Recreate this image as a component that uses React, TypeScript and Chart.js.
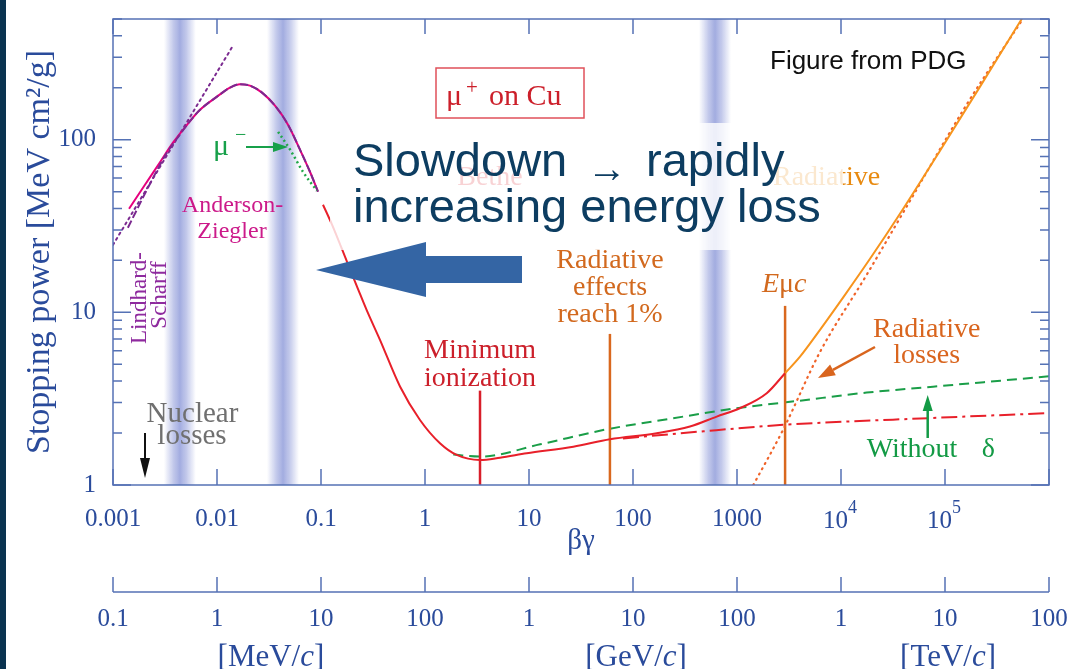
import React, { useEffect, useRef } from 'react';
import { Chart, registerables } from 'chart.js';

Chart.register(...registerables);

const SERIF = '"Liberation Serif", "Times New Roman", serif';
const SANS = '"Liberation Sans", Arial, sans-serif';

// ---------------- data ----------------
const betaGammaTicks = [0.001, 0.01, 0.1, 1, 10, 100, 1000, 1e4, 1e5, 1e6];
const betaGammaTickLabels = ['0.001', '0.01', '0.1', '1', '10', '100', '1000', '10^4', '10^5', ''];
const momentumTicks = [0.1, 1, 10, 100, 1e3, 1e4, 1e5, 1e6, 1e7, 1e8]; // MeV/c
const momentumTickLabels = ['0.1', '1', '10', '100', '1', '10', '100', '1', '10', '100'];
const momentumUnits = ['[MeV/', '[GeV/', '[TeV/'];
const momentumUnitAt = [3.3, 1.07e4, 1.07e7];
const stoppingTicks = [1, 10, 100];
const bandBetaGamma = [0.0044, 0.0431, 614];

// Anderson-Ziegler (magenta)
const azBG = [0.001426, 0.00203, 0.00283, 0.003776, 0.00515, 0.00687, 0.01, 0.01334, 0.01664, 0.02076, 0.02709, 0.03612, 0.04816, 0.06281, 0.07834, 0.0935];
const azSP = [39.8, 54.8, 74, 96.1, 122, 149, 177.5, 200.2, 209.7, 205.6, 187.3, 157.4, 122.2, 87.5, 65.2, 50];
// Lindhard-Scharff (purple dashed)
const lsBG = [0.00139, 0.00227, 0.0033, 0.0042, 0.00515, 0.00687, 0.01, 0.01334, 0.01664, 0.02076, 0.02709, 0.03612, 0.04816, 0.06281, 0.07834, 0.0935];
const lsSP = [30.9, 55.6, 84, 103, 122, 149, 177.5, 200.2, 209.7, 205.6, 187.3, 157.4, 122.2, 87.5, 65.2, 50];
// Lindhard-Scharff extrapolation (purple dotted)
const lsLineBG = [0.001, 0.0139];
const lsLineSP = [24.6, 342];
// mu- (green dotted)
const muMinusBG = [0.0387, 0.0505, 0.067, 0.0914];
const muMinusSP = [111, 87.5, 65.2, 50.6];
// Bethe (red)
const betheBG = [0.1045, 0.1276, 0.178, 0.2286, 0.275, 0.369, 0.575, 0.895, 1.393, 2.017, 3.38, 5.26, 9.51, 26.7, 60.1, 169, 353, 638, 1064, 1931, 2897];
const betheSP = [42.0, 32.2, 19.6, 13.5, 10.3, 6.93, 3.72, 2.38, 1.745, 1.493, 1.396, 1.44, 1.527, 1.667, 1.84, 1.994, 2.18, 2.49, 2.784, 3.4, 4.44];
// Total with radiative (orange)
const totalBG = [2897, 4036, 6281, 10920, 19010, 36900, 89540, 217200, 549600];
const totalSP = [4.44, 5.54, 7.92, 12.63, 20.42, 37.24, 86.37, 202.9, 502.9];
// Radiative losses (orange dotted)
const radBG = [1435, 2787, 6285, 17660, 42800, 161800, 560000];
const radSP = [1, 2.1, 5.9, 16.5, 41, 160, 500];
// Without delta (green dashed)
const noDeltaBG = [1.87, 3.38, 12.8, 55.8, 244, 993, 4036, 17660, 76700, 1e6];
const noDeltaSP = [1.5, 1.46, 1.72, 2.1, 2.436, 2.784, 3.08, 3.43, 3.71, 4.26];
// Ionization without radiative (red dash-dot)
const noRadBG = [80.2, 441, 2768, 76700, 1e6];
const noRadSP = [1.86, 2.04, 2.23, 2.445, 2.61];
// Marker lines: Minimum ionization, Radiative effects reach 1%, E_muc
const markerBG = [3.38, 60, 2900];
const markerTop = [3.52, 7.5, 10.9];

// ---------------- styles ----------------
const AXIS_TEXT = '#2a4b9b';
const FRAME = '#5572b5';

const pts = (xs: number[], ys: number[]) => xs.map((x, i) => ({ x, y: ys[i] }));

const curve = (data: any[], color: string, width: number, dash: number[], order: number, extra: any = {}) => ({
  data,
  borderColor: color,
  backgroundColor: color,
  borderWidth: width,
  borderDash: dash,
  pointRadius: 0,
  showLine: true,
  fill: false,
  cubicInterpolationMode: 'monotone',
  order,
  ...extra,
});

function arrow(ctx: CanvasRenderingContext2D, x1: number, y1: number, x2: number, y2: number, color: string, lw: number, head: number, hw: number) {
  const a = Math.atan2(y2 - y1, x2 - x1);
  const bx = x2 - head * Math.cos(a);
  const by = y2 - head * Math.sin(a);
  ctx.setLineDash([]);
  ctx.strokeStyle = color;
  ctx.lineWidth = lw;
  ctx.beginPath();
  ctx.moveTo(x1, y1);
  ctx.lineTo(bx, by);
  ctx.stroke();
  ctx.fillStyle = color;
  ctx.beginPath();
  ctx.moveTo(x2, y2);
  ctx.lineTo(bx + hw * Math.sin(a), by - hw * Math.cos(a));
  ctx.lineTo(bx - hw * Math.sin(a), by + hw * Math.cos(a));
  ctx.closePath();
  ctx.fill();
}

function text(ctx: CanvasRenderingContext2D, s: string, x: number, y: number, font: string, color: string, align: CanvasTextAlign = 'left') {
  ctx.font = font;
  ctx.fillStyle = color;
  ctx.textAlign = align;
  ctx.textBaseline = 'alphabetic';
  ctx.fillText(s, x, y);
  return ctx.measureText(s).width;
}

const decorPlugin = {
  id: 'decor',
  beforeDraw(chart: any) {
    const ctx = chart.ctx;
    ctx.save();
    ctx.fillStyle = '#0a3350';
    ctx.fillRect(0, 0, 6, chart.height);
    ctx.restore();
  },
  beforeDatasetsDraw(chart: any) {
    const ctx = chart.ctx;
    const ca = chart.chartArea;
    const xs = chart.scales.x;
    ctx.save();
    bandBetaGamma.forEach((v) => {
      const cx = xs.getPixelForValue(v);
      const hw = 16;
      const g = ctx.createLinearGradient(cx - hw, 0, cx + hw, 0);
      g.addColorStop(0, 'rgba(168,177,226,0)');
      g.addColorStop(0.3, 'rgba(168,177,226,0.7)');
      g.addColorStop(0.5, 'rgba(162,172,224,1)');
      g.addColorStop(0.7, 'rgba(168,177,226,0.7)');
      g.addColorStop(1, 'rgba(168,177,226,0)');
      ctx.fillStyle = g;
      ctx.fillRect(cx - hw, ca.top, hw * 2, ca.bottom - ca.top);
    });
    ctx.restore();
  },
  afterDatasetsDraw(chart: any) {
    const ctx: CanvasRenderingContext2D = chart.ctx;
    const ca = chart.chartArea;
    const xs = chart.scales.x;
    const ys = chart.scales.y;
    const x2 = chart.scales.x2;
    ctx.save();
    ctx.setLineDash([]);

    // frame
    ctx.strokeStyle = FRAME;
    ctx.lineWidth = 1.5;
    ctx.strokeRect(ca.left, ca.top, ca.right - ca.left, ca.bottom - ca.top);
    // inward ticks
    ctx.beginPath();
    betaGammaTicks.forEach((v) => {
      const p = xs.getPixelForValue(v);
      ctx.moveTo(p, ca.top);
      ctx.lineTo(p, ca.top + 15);
      ctx.moveTo(p, ca.bottom);
      ctx.lineTo(p, ca.bottom - 16);
    });
    stoppingTicks.forEach((d) => {
      for (let m = 1; m <= 9; m++) {
        const v = d * m;
        if (v > 500) break;
        const p = ys.getPixelForValue(v);
        const len = m === 1 ? 18 : 9;
        ctx.moveTo(ca.left, p);
        ctx.lineTo(ca.left + len, p);
        ctx.moveTo(ca.right - len, p);
        ctx.lineTo(ca.right, p);
      }
    });
    ctx.stroke();

    // power-of-ten tick labels with real superscripts
    betaGammaTicks.forEach((v, i) => {
      const lab = betaGammaTickLabels[i];
      if (lab.indexOf('^') < 0) return;
      const [base, exp] = lab.split('^');
      const p = xs.getPixelForValue(v);
      ctx.font = `25px ${SERIF}`;
      const wb = ctx.measureText(base).width;
      ctx.font = `18px ${SERIF}`;
      const we = ctx.measureText(exp).width;
      const x0 = p - (wb + we) / 2 - 1;
      text(ctx, base, x0, xs.top + 42.5, `25px ${SERIF}`, AXIS_TEXT);
      text(ctx, exp, x0 + wb, xs.top + 28, `18px ${SERIF}`, AXIS_TEXT);
    });

    // momentum axis line with upward ticks
    const ly = x2.top + 27;
    ctx.strokeStyle = FRAME;
    ctx.beginPath();
    ctx.moveTo(x2.left, ly);
    ctx.lineTo(x2.right, ly);
    momentumTicks.forEach((v) => {
      const p = x2.getPixelForValue(v);
      ctx.moveTo(p, ly - 15);
      ctx.lineTo(p, ly);
    });
    ctx.stroke();
    // units
    momentumUnits.forEach((u, i) => {
      const cx = x2.getPixelForValue(momentumUnitAt[i]);
      ctx.font = `31px ${SERIF}`;
      const w1 = ctx.measureText(u).width;
      ctx.font = `italic 31px ${SERIF}`;
      const w2 = ctx.measureText('c').width;
      ctx.font = `31px ${SERIF}`;
      const w3 = ctx.measureText(']').width;
      const x0 = cx - (w1 + w2 + w3) / 2;
      const by = x2.top + 101;
      text(ctx, u, x0, by, `31px ${SERIF}`, AXIS_TEXT);
      text(ctx, 'c', x0 + w1, by, `italic 31px ${SERIF}`, AXIS_TEXT);
      text(ctx, ']', x0 + w1 + w2, by, `31px ${SERIF}`, AXIS_TEXT);
    });

    // ---- annotations ----
    // mu+ on Cu box
    ctx.strokeStyle = '#e0505a';
    ctx.lineWidth = 1.5;
    ctx.strokeRect(436, 68, 148, 50);
    text(ctx, 'μ', 446, 105, `30px ${SERIF}`, '#cc1f2a');
    text(ctx, '+', 466, 94, `21px ${SERIF}`, '#cc1f2a');
    text(ctx, 'on Cu', 489, 105, `30px ${SERIF}`, '#cc1f2a');

    text(ctx, 'Figure from PDG', 770, 69, `26px ${SANS}`, '#111111');

    // mu- label and arrow
    text(ctx, 'μ', 213, 155, `30px ${SERIF}`, '#17a04a');
    text(ctx, '−', 235, 141, `20px ${SERIF}`, '#17a04a');
    arrow(ctx, 246, 147, 288, 147, '#17a04a', 2, 15, 5);

    // Anderson-Ziegler
    text(ctx, 'Anderson-', 232.5, 211.7, `24px ${SERIF}`, '#cc1a8a', 'center');
    text(ctx, 'Ziegler', 232, 238.3, `24px ${SERIF}`, '#cc1a8a', 'center');

    // Lindhard-Scharff (rotated)
    ctx.save();
    ctx.translate(146, 298);
    ctx.rotate(-Math.PI / 2);
    text(ctx, 'Lindhard-', 0, 0, `23px ${SERIF}`, '#8e2a9e', 'center');
    ctx.restore();
    ctx.save();
    ctx.translate(166, 295);
    ctx.rotate(-Math.PI / 2);
    text(ctx, 'Scharff', 0, 0, `23px ${SERIF}`, '#8e2a9e', 'center');
    ctx.restore();

    // Nuclear losses
    text(ctx, 'Nuclear', 192.5, 421.7, `29px ${SERIF}`, '#707070', 'center');
    text(ctx, 'losses', 192, 444, `29px ${SERIF}`, '#707070', 'center');
    arrow(ctx, 145, 433, 145, 478, '#111111', 2, 20, 5);

    // Minimum ionization
    text(ctx, 'Minimum', 480, 358.3, `28px ${SERIF}`, '#cc1f2a', 'center');
    text(ctx, 'ionization', 480, 385.7, `28px ${SERIF}`, '#cc1f2a', 'center');

    // Radiative effects reach 1%
    text(ctx, 'Radiative', 610, 268.3, `28px ${SERIF}`, '#d2691e', 'center');
    text(ctx, 'effects', 610, 295, `28px ${SERIF}`, '#d2691e', 'center');
    text(ctx, 'reach 1%', 610, 321.7, `28px ${SERIF}`, '#d2691e', 'center');

    // E_mu c
    {
      let x = 762;
      x += text(ctx, 'E', x, 291.7, `italic 28px ${SERIF}`, '#d2691e');
      x += text(ctx, 'μ', x, 291.7, `28px ${SERIF}`, '#d2691e');
      text(ctx, 'c', x, 291.7, `italic 28px ${SERIF}`, '#d2691e');
    }

    // Radiative losses
    text(ctx, 'Radiative', 926.7, 336.7, `28px ${SERIF}`, '#d9651e', 'center');
    text(ctx, 'losses', 926.7, 362.7, `28px ${SERIF}`, '#d9651e', 'center');
    arrow(ctx, 875, 347, 818, 378, '#d9651e', 2.5, 17, 6);

    // Without delta
    text(ctx, 'Without', 866.7, 457.3, `28px ${SERIF}`, '#139a45');
    text(ctx, 'δ', 981.7, 457.3, `28px ${SERIF}`, '#139a45');
    arrow(ctx, 927.7, 438, 927.7, 395, '#139a45', 2.5, 16, 5);

    // labels behind the translucent box
    text(ctx, 'Bethe', 490, 185, `28px ${SERIF}`, '#d9202a', 'center');
    text(ctx, 'Radiative', 773, 185, `28px ${SERIF}`, '#e88a10');

    // translucent box
    ctx.fillStyle = 'rgba(255,255,255,0.8)';
    ctx.fillRect(330, 123, 513, 127);

    // big text
    text(ctx, 'Slowdown', 353, 176, `47px ${SANS}`, '#0d3d61');
    text(ctx, '→', 606.7, 182, `40px ${SANS}`, '#0d3d61', 'center');
    text(ctx, 'rapidly', 646, 176, `47px ${SANS}`, '#0d3d61');
    text(ctx, 'increasing energy loss', 353, 222, `47px ${SANS}`, '#0d3d61');

    // big blue arrow
    ctx.fillStyle = '#3465a4';
    ctx.beginPath();
    ctx.moveTo(316, 270);
    ctx.lineTo(426, 242);
    ctx.lineTo(426, 256);
    ctx.lineTo(522, 256);
    ctx.lineTo(522, 283);
    ctx.lineTo(426, 283);
    ctx.lineTo(426, 297);
    ctx.closePath();
    ctx.fill();

    ctx.restore();
  },
};

const noPadH = (h: number) => (s: any) => {
  s.height = h;
  s.paddingLeft = 0;
  s.paddingRight = 0;
  s.paddingTop = 0;
  s.paddingBottom = 0;
};

export default function App() {
  const ref = useRef<HTMLCanvasElement | null>(null);

  useEffect(() => {
    if (!ref.current) return;
    const markerColors = ['#d81e2a', '#d9681e', '#d9681e'];
    const markers = markerBG.map((bg, i) => ({
      data: [{ x: bg, y: 1 }, { x: bg, y: markerTop[i] }],
      borderColor: markerColors[i],
      borderWidth: 2.5,
      pointRadius: 0,
      showLine: true,
      fill: false,
      tension: 0,
      order: 5,
    }));

    const chart = new Chart(ref.current, {
      type: 'scatter',
      data: {
        datasets: [
          curve(pts(lsLineBG, lsLineSP), '#7b2a90', 2, [2, 4], 4, { borderCapStyle: 'round', cubicInterpolationMode: 'default', tension: 0 }),
          curve(pts(azBG, azSP), '#e6007e', 2, [], 3),
          curve(pts(lsBG, lsSP), '#7b2a90', 2, [8, 3], 2),
          curve(pts(muMinusBG, muMinusSP), '#22a84a', 2.5, [2, 3], 1),
          curve(pts(noDeltaBG, noDeltaSP), '#1a9e48', 2, [10, 6], 6),
          curve(pts(noRadBG, noRadSP), '#e8202a', 2, [16, 5, 3, 5], 6),
          curve(pts(radBG, radSP), '#f0642a', 2.2, [1, 5], 4, { borderCapStyle: 'round' }),
          curve(pts(betheBG, betheSP), '#e8202a', 2, [], 3),
          curve(pts(totalBG, totalSP), '#f7941d', 2, [], 3),
          ...markers,
        ] as any,
      },
      options: {
        animation: false,
        responsive: false,
        events: [],
        layout: { padding: { top: 19, right: 25, left: 0, bottom: 0 } },
        plugins: {
          legend: { display: false },
          tooltip: { enabled: false },
        },
        scales: {
          x: {
            type: 'logarithmic',
            position: 'bottom',
            weight: 1,
            min: 0.001,
            max: 1e6,
            grid: { display: false, drawTicks: false },
            border: { display: false },
            afterBuildTicks: (s: any) => {
              s.ticks = betaGammaTicks.map((v) => ({ value: v }));
            },
            afterFit: noPadH(80),
            ticks: {
              autoSkip: false,
              maxRotation: 0,
              padding: 19,
              color: AXIS_TEXT,
              font: { family: SERIF, size: 25 },
              callback: (v: any) => {
                const i = betaGammaTicks.findIndex((t) => Math.abs(Math.log10(t) - Math.log10(v)) < 1e-6);
                if (i < 0) return '';
                const lab = betaGammaTickLabels[i];
                return lab.indexOf('^') >= 0 ? '' : lab;
              },
            },
            title: {
              display: true,
              text: 'βγ',
              color: AXIS_TEXT,
              font: { family: SERIF, size: 29 },
              padding: { top: 0, bottom: 6 },
            },
          },
          x2: {
            type: 'logarithmic',
            position: 'bottom',
            weight: 2,
            min: 0.1,
            max: 1e8,
            grid: { display: false, drawTicks: false },
            border: { display: false },
            afterBuildTicks: (s: any) => {
              s.ticks = momentumTicks.map((v) => ({ value: v }));
            },
            afterFit: noPadH(104),
            ticks: {
              autoSkip: false,
              maxRotation: 0,
              padding: 39,
              color: AXIS_TEXT,
              font: { family: SERIF, size: 25 },
              callback: (v: any) => {
                const i = momentumTicks.findIndex((t) => Math.abs(Math.log10(t) - Math.log10(v)) < 1e-6);
                return i >= 0 ? momentumTickLabels[i] : '';
              },
            },
          },
          y: {
            type: 'logarithmic',
            position: 'left',
            min: 1,
            max: 500,
            grid: { display: false, drawTicks: false },
            border: { display: false },
            afterBuildTicks: (s: any) => {
              s.ticks = stoppingTicks.map((v) => ({ value: v }));
            },
            afterFit: (s: any) => {
              s.width = 113;
              s.paddingLeft = 0;
              s.paddingRight = 0;
              s.paddingTop = 0;
              s.paddingBottom = 0;
            },
            ticks: {
              autoSkip: false,
              padding: 17,
              color: AXIS_TEXT,
              font: { family: SERIF, size: 25 },
              callback: (v: any) => String(v),
            },
            title: {
              display: true,
              text: 'Stopping power [MeV cm²/g]',
              color: AXIS_TEXT,
              font: { family: SERIF, size: 34 },
              padding: { top: 20, bottom: 0 },
            },
          },
        },
      } as any,
      plugins: [decorPlugin as any],
    });
    return () => chart.destroy();
  }, []);

  return (
    <div style={{ position: 'absolute', left: 0, top: 0, width: 1074, height: 669, background: '#ffffff' }}>
      <canvas ref={ref} width={1074} height={669} style={{ display: 'block', width: 1074, height: 669 }} />
    </div>
  );
}
